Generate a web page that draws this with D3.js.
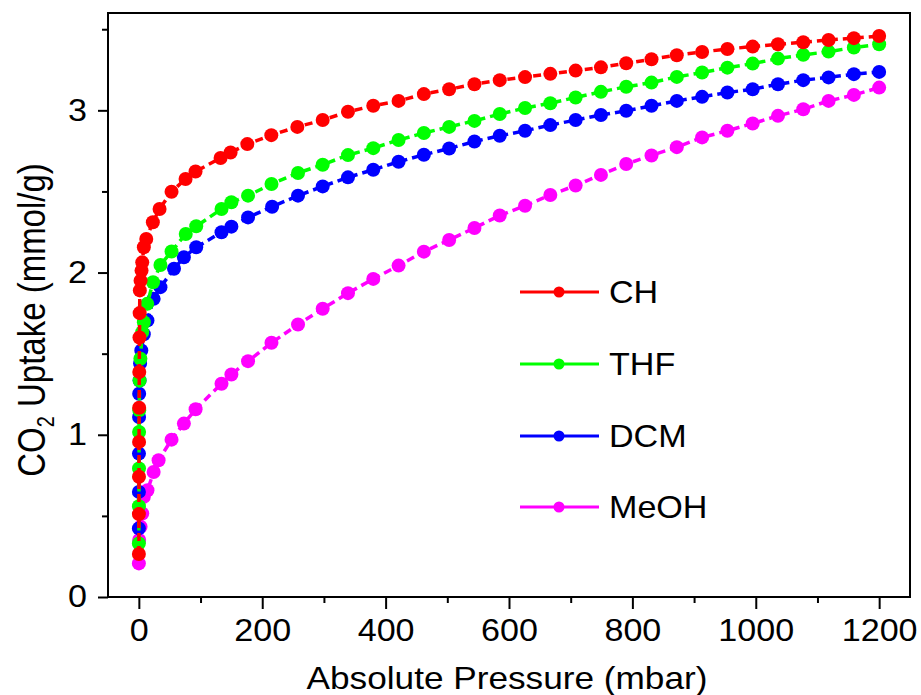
<!DOCTYPE html>
<html>
<head>
<meta charset="utf-8">
<script src="https://cdn.jsdelivr.net/npm/d3@7"></script>
<style>
  body { margin: 0; background: #fff; }
  svg text { font-family: "Liberation Sans", Arial, sans-serif; fill: #000; }
</style>
</head>
<body>
<div id="chart"></div>
<script>
// high pressure points are shared by all four runs (every ~41 mbar)
var highP = [298, 339, 380, 421, 462, 503, 544, 585, 626, 667, 708, 749,
             790, 831, 872, 913, 954, 995, 1036, 1077, 1118, 1159, 1200];

// CH
var chP = [0.05, 0.1, 0.2, 0.35, 0.5, 0.7, 1.0, 1.3, 1.6, 2.8, 4.4, 5.5, 8.1, 12,
           22.7, 33.6, 53, 75.7, 91.9, 132.5, 148.7, 175.8, 214.7, 256.9].concat(highP);
var chU = [0.265, 0.511, 0.741, 0.956, 1.167, 1.387, 1.60, 1.75, 1.89, 1.95, 2.012, 2.063, 2.156, 2.207,
           2.31, 2.392, 2.498, 2.577, 2.623, 2.706, 2.740, 2.792, 2.847, 2.898,
           2.940, 2.991, 3.028, 3.058, 3.100, 3.130, 3.161, 3.186, 3.205, 3.225, 3.245, 3.265,
           3.29, 3.315, 3.34, 3.36, 3.378, 3.393, 3.407, 3.42, 3.434, 3.445, 3.458];

// THF
var thfP = [0.05, 0.12, 0.25, 0.4, 0.6, 1.2, 2.5, 5.5, 8.1, 13.6, 23, 35, 53, 76, 93,
            134, 150, 177, 215, 258].concat(highP);
var thfU = [0.33, 0.56, 0.792, 1.017, 1.151, 1.335, 1.469, 1.633, 1.694, 1.807, 1.94, 2.047, 2.13, 2.238, 2.285,
            2.392, 2.433, 2.474, 2.546, 2.614,
            2.665, 2.724, 2.767, 2.817, 2.860, 2.898, 2.935, 2.977, 3.014, 3.044, 3.079, 3.114,
            3.145, 3.171, 3.206, 3.233, 3.263, 3.288, 3.319, 3.342, 3.362, 3.387, 3.407];

// DCM
var dcmP = [0.05, 0.1, 0.2, 0.35, 0.5, 1.2, 2.0, 4, 8, 14, 24, 35, 57, 73, 93,
            134, 150, 177, 216, 258].concat(highP);
var dcmU = [0.423, 0.648, 0.884, 1.11, 1.253, 1.335, 1.44, 1.52, 1.62, 1.705, 1.838, 1.91, 2.023, 2.094, 2.156,
            2.248, 2.283, 2.34, 2.406, 2.474,
            2.531, 2.587, 2.634, 2.683, 2.726, 2.765, 2.808, 2.843, 2.874, 2.909, 2.940, 2.971,
            2.997, 3.028, 3.058, 3.083, 3.110, 3.130, 3.161, 3.186, 3.203, 3.223, 3.237];

// MeOH
var meohP = [0.05, 0.5, 2.8, 5.5, 8, 14, 24, 32, 53, 73, 92, 134, 150, 177, 215, 258].concat(highP);
var meohU = [0.207, 0.351, 0.433, 0.515, 0.617, 0.658, 0.771, 0.843, 0.970, 1.069, 1.157, 1.315, 1.372, 1.454, 1.567, 1.680,
             1.777, 1.873, 1.961, 2.043, 2.129, 2.201, 2.275, 2.352, 2.412, 2.478, 2.537, 2.602,
             2.669, 2.722, 2.773, 2.833, 2.874, 2.919, 2.966, 3.007, 3.058, 3.095, 3.140];

var seriesNames = ["CH", "THF", "DCM", "MeOH"];
var seriesColors = ["#ff0000", "#00ff00", "#0000ff", "#ff00ff"];
var xTicks = [0, 200, 400, 600, 800, 1000, 1200];
var xMinor = [100, 300, 500, 700, 900, 1100];
var yTicks = [0, 1, 2, 3];
var yMinor = [0.5, 1.5, 2.5, 3.5];

var W = 921, H = 695;
var margin = {top: 13, right: 11, bottom: 98, left: 108};
var width = W - margin.left - margin.right,
    height = H - margin.top - margin.bottom;
var fontSize = 31, stretch = 1.1;   // the source text is a bit wider than it is tall

var svg = d3.select("#chart").append("svg")
    .attr("width", W)
    .attr("height", H);
var g = svg.append("g")
    .attr("transform", "translate(" + margin.left + "," + margin.top + ")");

var xScale = d3.scaleLinear().domain([-50, 1250]).range([0, width]);
var yScale = d3.scaleLinear().domain([0, 3.6]).range([height, 0]);

//series, drawn so that CH ends up on top
var series = [
    {name: "MeOH", P: meohP, U: meohU},
    {name: "DCM", P: dcmP, U: dcmU},
    {name: "THF", P: thfP, U: thfU},
    {name: "CH", P: chP, U: chU}
];

var line = d3.line()
    .x(function(d) { return xScale(d[0]); })
    .y(function(d) { return yScale(d[1]); });

var plot = g.append("g");
series.forEach(function(s) {
    var col = seriesColors[seriesNames.indexOf(s.name)];
    var pts = s.P.map(function(p, i) { return [p, s.U[i]]; });
    var sg = plot.append("g");
    sg.append("path")
        .datum(pts)
        .attr("d", line)
        .attr("fill", "none")
        .attr("stroke", col)
        .attr("stroke-width", 3.5)
        .attr("stroke-dasharray", "8,5");
    sg.selectAll("circle")
        .data(pts)
        .enter()
        .append("circle")
        .attr("cx", function(d) { return xScale(d[0]); })
        .attr("cy", function(d) { return yScale(d[1]); })
        .attr("r", 7)
        .attr("fill", col);
});

//frame
g.append("rect")
    .attr("x", 0).attr("y", 0)
    .attr("width", width).attr("height", height)
    .attr("fill", "none")
    .attr("stroke", "#000")
    .attr("stroke-width", 2);

//x axis
var xAxis = d3.axisBottom(xScale).tickValues(xTicks).tickSize(12).tickPadding(10)
    .tickFormat(d3.format("d"));
var xAxisMinor = d3.axisBottom(xScale).tickValues(xMinor).tickSize(6).tickFormat("");
g.append("g")
    .attr("class", "x axis")
    .attr("transform", "translate(0," + height + ")")
    .call(xAxis);
g.append("g")
    .attr("class", "x minor")
    .attr("transform", "translate(0," + height + ")")
    .call(xAxisMinor);

//y axis
var yAxis = d3.axisLeft(yScale).tickValues(yTicks).tickSize(10).tickPadding(10)
    .tickFormat(d3.format("d"));
var yAxisMinor = d3.axisLeft(yScale).tickValues(yMinor).tickSize(6).tickFormat("");
g.append("g")
    .attr("class", "y axis")
    .call(yAxis);
g.append("g")
    .attr("class", "y minor")
    .call(yAxisMinor);

g.selectAll(".axis path, .minor path").remove();
g.selectAll(".tick line").attr("stroke", "#000").attr("stroke-width", 2);
g.selectAll(".axis text")
    .style("font-family", "'Liberation Sans', Arial, sans-serif")
    .style("font-size", fontSize + "px")
    .attr("fill", "#000");
g.selectAll(".x.axis text").attr("transform", "scale(" + stretch + ",1)");
g.selectAll(".y.axis text")
    .attr("x", -21 / stretch)
    .attr("transform", "scale(" + stretch + ",1)");

//axes labels
svg.append("text")
    .attr("text-anchor", "middle")
    .attr("transform", "translate(" + (margin.left + width / 2 - 2) + ",689)scale(" + stretch + ",1)")
    .style("font-size", "32px")
    .text("Absolute Pressure (mbar)");

var yLab = svg.append("text")
    .attr("text-anchor", "middle")
    .attr("transform", "translate(45,320)scale(1.15,1)rotate(-90)")
    .style("font-size", "33px");
yLab.append("tspan").text("CO");
yLab.append("tspan").attr("dy", 8).style("font-size", "20px").text("2");
yLab.append("tspan").attr("dy", -8).text(" Uptake (mmol/g)");

//legend
var legendY = [292, 364, 436, 507];
var legend = svg.append("g");
seriesNames.forEach(function(name, i) {
    var row = legend.append("g").attr("transform", "translate(0," + legendY[i] + ")");
    row.append("line")
        .attr("x1", 520).attr("x2", 599)
        .attr("y1", 0).attr("y2", 0)
        .attr("stroke", seriesColors[i])
        .attr("stroke-width", 3);
    row.append("circle")
        .attr("cx", 559).attr("cy", 0)
        .attr("r", 5.5)
        .attr("fill", seriesColors[i]);
    row.append("text")
        .attr("transform", "translate(609,11)scale(" + stretch + ",1)")
        .style("font-size", fontSize + "px")
        .text(name);
});
</script>
</body>
</html>
